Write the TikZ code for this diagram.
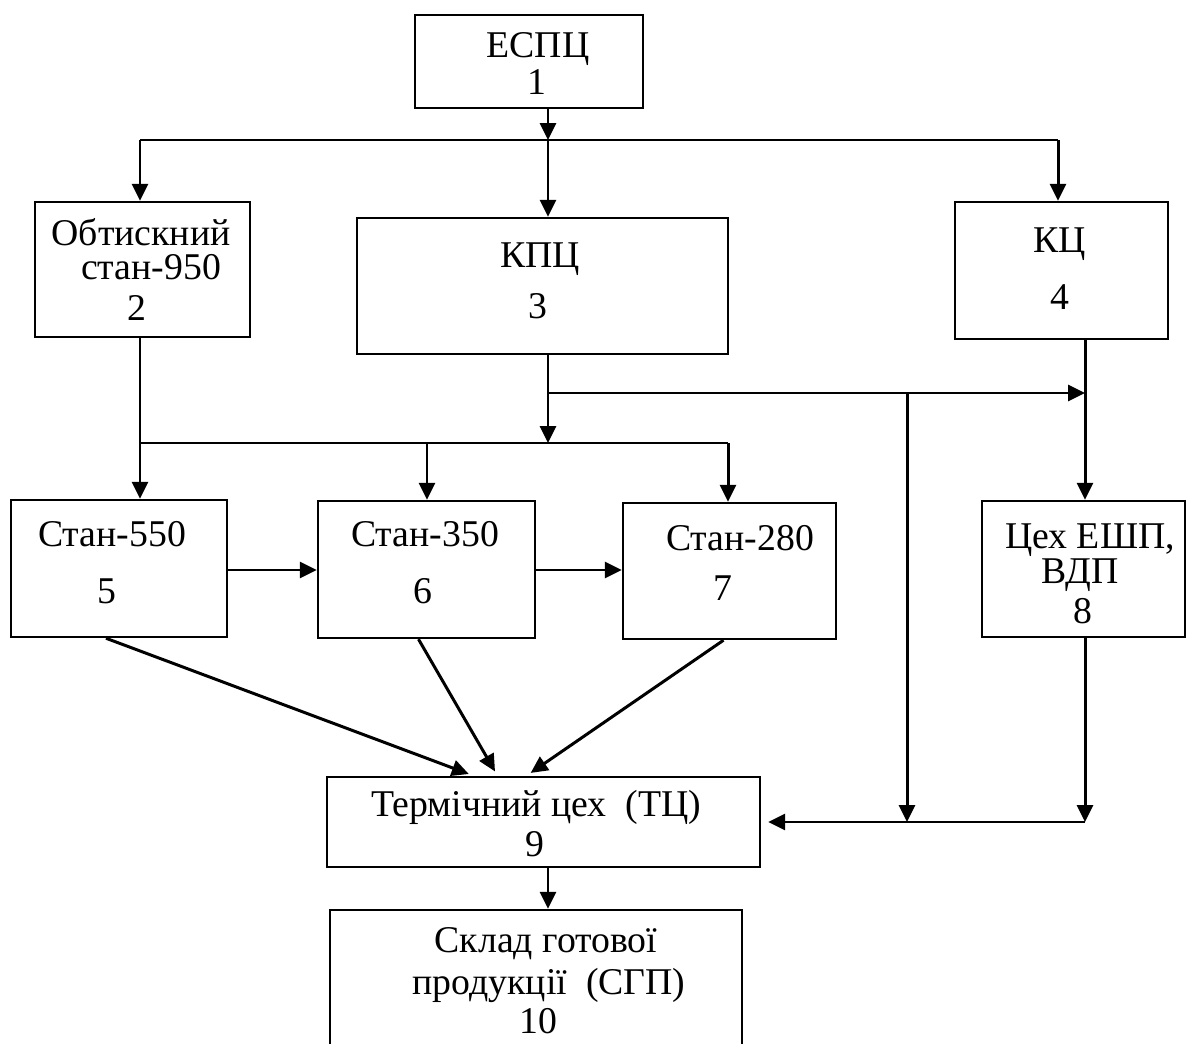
\documentclass[tikz,border=0pt]{standalone}
\usepackage{fontspec}
\setmainfont{Liberation Serif}
\usetikzlibrary{arrows.meta,fit}
\begin{document}
\begin{tikzpicture}[x=0.02cm,y=-0.02cm,
  box/.style={draw, line width=1.4pt, inner sep=0pt},
  ln/.style={line width=1.7pt},
  arr/.style={line width=1.7pt, -{Triangle[length=0.34cm,width=0.32cm]}},
  lbl/.style={anchor=base, inner sep=0pt, font=\fontsize{21.5}{24}\selectfont}]
\fill[white] (0,0) rectangle (1187,1044);
\useasboundingbox (0,0) rectangle (1187,1044);
% boxes
\node[box, fit={(415,15) (643,108)}] (b1) {};
\node[box, fit={(35,202) (250,337)}] (b2) {};
\node[box, fit={(357,218) (728,354)}] (b3) {};
\node[box, fit={(955,202) (1168,339)}] (b4) {};
\node[box, fit={(11,500) (227,637)}] (b5) {};
\node[box, fit={(318,501) (535,638)}] (b6) {};
\node[box, fit={(623,503) (836,639)}] (b7) {};
\node[box, fit={(982,501) (1185,637)}] (b8) {};
\node[box, fit={(327,777) (760,867)}] (b9) {};
\node[box, fit={(330,910) (742,1070)}] (b10) {};
% labels
\node[lbl] (t1a) at (538,58) {ЕСПЦ};
\node[lbl] (t1b) at (537,95) {1};
\node[lbl] (t2a) at (141,246) {Обтискний};
\node[lbl] (t2b) at (151,280) {стан-950};
\node[lbl] (t2c) at (137,320) {2};
\node[lbl] (t3a) at (540,268) {КПЦ};
\node[lbl] (t3b) at (538,318) {3};
\node[lbl] (t4a) at (1060,253) {КЦ};
\node[lbl] (t4b) at (1060,310) {4};
\node[lbl] (t5a) at (112,546) {Стан-550};
\node[lbl] (t5b) at (107,603) {5};
\node[lbl] (t6a) at (425,546) {Стан-350};
\node[lbl] (t6b) at (423,603) {6};
\node[lbl] (t7a) at (740,550) {Стан-280};
\node[lbl] (t7b) at (723,600) {7};
\node[lbl] (t8a) at (1090,548) {Цех ЕШП,};
\node[lbl] (t8b) at (1080,583) {ВДП};
\node[lbl] (t8c) at (1083,623) {8};
\node[lbl] (t9a) at (536,816) {Термічний цех~~(ТЦ)};
\node[lbl] (t9b) at (535,856) {9};
\node[lbl] (t10a) at (546,952) {Склад готової};
\node[lbl] (t10b) at (549,994) {продукції~~(СГП)};
\node[lbl] (t10c) at (538,1033) {10};
% junctions
\coordinate (c1) at (548,140);
\coordinate (c2) at (140,140);
\coordinate (c3) at (1058,140);
\coordinate (c4) at (548,393);
\coordinate (c5) at (548,443);
\coordinate (c6) at (1085,393);
\coordinate (c7) at (907,393);
\coordinate (c8) at (907,822);
\coordinate (c9) at (1085,822);
\coordinate (p1) at (140,443);
\coordinate (p2) at (427,443);
\coordinate (p3) at (728,443);
\coordinate (q) at (0,570);
% connectors
\draw[arr] (b1.south -| c1) -- (c1);
\draw[ln] (c2) -- (c3);
\draw[arr] (c1) -- (b3.north -| c1);
\draw[arr] (c2) -- (b2.north -| c2);
\draw[arr] (c3) -- (b4.north -| c3);
\draw[arr] (b3.south -| c5) -- (c5);
\draw[arr] (c4) -- (c6);
\draw[arr] (b4.south -| c6) -- (b8.north -| c6);
\draw[arr] (c7) -- (c8);
\draw[arr] (b8.south -| c9) -- (c9);
\draw[arr] (c9) -- ([xshift=0.14cm]b9.east |- c9);
\draw[arr] (b2.south -| p1) -- (b5.north -| p1);
\draw[ln] (p1) -- (p3);
\draw[arr] (p2) -- (b6.north -| p2);
\draw[arr] (p3) -- (b7.north -| p3);
\draw[arr] (b5.east |- q) -- (b6.west |- q);
\draw[arr] (b6.east |- q) -- (b7.west |- q);
\draw[arr, shorten >=0.1cm] ([xshift=-0.26cm]b5.south) -- ([xshift=-1.4cm]b9.north);
\draw[arr, shorten >=0.1cm] ([xshift=-0.16cm]b6.south) -- ([xshift=-0.92cm]b9.north);
\draw[arr, shorten >=0.1cm] ([xshift=-0.12cm]b7.south) -- ([xshift=-0.34cm]b9.north);
\draw[arr] (b9.south -| c1) -- (b10.north -| c1);
\end{tikzpicture}
\end{document}
